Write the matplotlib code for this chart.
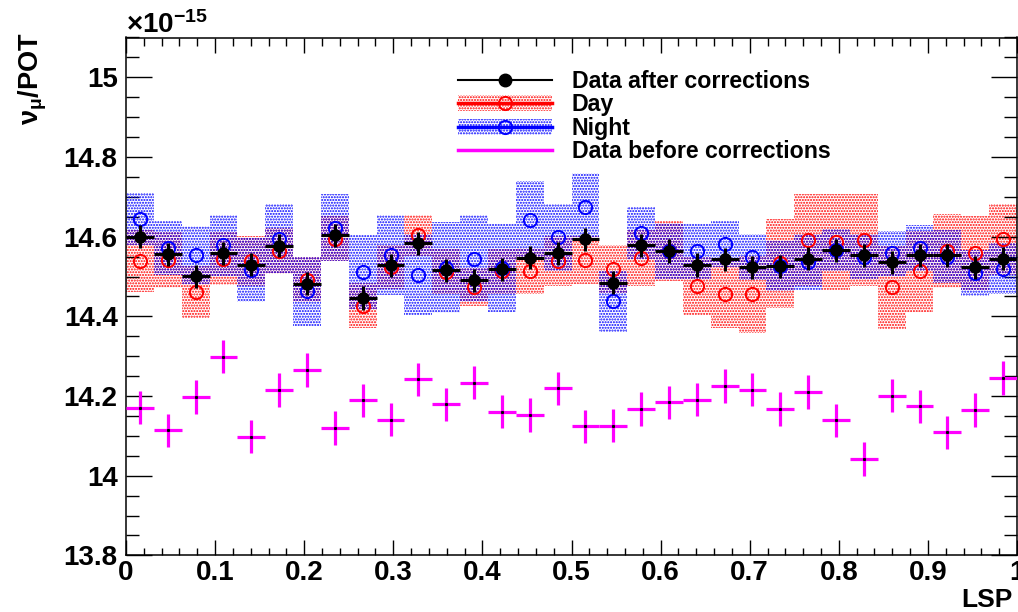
import numpy as np
import matplotlib
import matplotlib.pyplot as plt
from matplotlib.lines import Line2D
from matplotlib.patches import Patch
from matplotlib.ticker import MultipleLocator

plt.rcParams['font.family'] = ['Liberation Sans', 'DejaVu Sans']
plt.rcParams['font.weight'] = 'bold'
plt.rcParams['mathtext.fontset'] = 'custom'
plt.rcParams['mathtext.rm'] = 'Liberation Sans'
plt.rcParams['mathtext.it'] = 'Liberation Sans:italic'
plt.rcParams['mathtext.bf'] = 'Liberation Sans:bold'
plt.rcParams['hatch.linewidth'] = 1.0

# 32 LSP bins between 0 and 1
NBINS = 32
edges = np.linspace(0, 1, NBINS + 1)
lsp = 0.5 * (edges[:-1] + edges[1:])
binw = edges[1] - edges[0]

# values in units of 1e-15 nu_mu / POT
after = [14.600, 14.556, 14.501, 14.558, 14.530, 14.577, 14.482, 14.604,
         14.446, 14.528, 14.583, 14.516, 14.491, 14.518, 14.547, 14.558,
         14.593, 14.484, 14.578, 14.564, 14.529, 14.543, 14.523, 14.526,
         14.545, 14.566, 14.553, 14.536, 14.553, 14.553, 14.523, 14.545]
after_err = [0.029, 0.029, 0.029, 0.029, 0.029, 0.029, 0.029, 0.029,
             0.029, 0.029, 0.029, 0.029, 0.029, 0.029, 0.029, 0.029,
             0.029, 0.029, 0.029, 0.029, 0.029, 0.029, 0.029, 0.029,
             0.029, 0.029, 0.029, 0.029, 0.029, 0.029, 0.029, 0.029]

day = [14.539, 14.541, 14.461, 14.545, 14.539, 14.564, 14.492, 14.595,
       14.427, 14.524, 14.603, 14.512, 14.474, 14.513, 14.513, 14.539,
       14.541, 14.519, 14.547, 14.564, 14.477, 14.456, 14.455, 14.533,
       14.592, 14.587, 14.591, 14.473, 14.513, 14.564, 14.560, 14.593]
day_err = [0.078, 0.071, 0.066, 0.066, 0.063, 0.058, 0.056, 0.056,
           0.056, 0.056, 0.051, 0.056, 0.048, 0.056, 0.058, 0.063,
           0.061, 0.061, 0.071, 0.076, 0.073, 0.086, 0.096, 0.111,
           0.116, 0.121, 0.116, 0.104, 0.101, 0.093, 0.093, 0.088]

night = [14.644, 14.572, 14.554, 14.578, 14.516, 14.595, 14.463, 14.623,
         14.512, 14.554, 14.505, 14.522, 14.545, 14.522, 14.642, 14.598,
         14.675, 14.438, 14.609, 14.564, 14.563, 14.581, 14.550, 14.526,
         14.536, 14.566, 14.550, 14.558, 14.571, 14.550, 14.508, 14.520]
night_err = [0.066, 0.068, 0.073, 0.076, 0.081, 0.086, 0.086, 0.083,
             0.093, 0.101, 0.101, 0.114, 0.109, 0.111, 0.098, 0.083,
             0.086, 0.076, 0.066, 0.071, 0.068, 0.058, 0.058, 0.063,
             0.071, 0.053, 0.056, 0.056, 0.058, 0.066, 0.058, 0.063]

before = [14.171, 14.114, 14.198, 14.299, 14.098, 14.215, 14.265, 14.120,
          14.189, 14.141, 14.242, 14.179, 14.234, 14.161, 14.152, 14.219,
          14.124, 14.126, 14.167, 14.184, 14.191, 14.225, 14.216, 14.167,
          14.210, 14.139, 14.042, 14.201, 14.174, 14.109, 14.165, 14.245]
before_err = [0.042, 0.042, 0.042, 0.042, 0.042, 0.042, 0.042, 0.042,
              0.042, 0.042, 0.042, 0.042, 0.042, 0.042, 0.042, 0.042,
              0.042, 0.042, 0.042, 0.042, 0.042, 0.042, 0.042, 0.042,
              0.042, 0.042, 0.042, 0.042, 0.042, 0.042, 0.042, 0.042]

labels = ['Data after corrections', 'Day', 'Night', 'Data before corrections']
ytick_vals = [13.8, 14.0, 14.2, 14.4, 14.6, 14.8, 15.0]
ytick_labels = ['13.8', '14', '14.2', '14.4', '14.6', '14.8', '15']
xtick_vals = [0, 0.1, 0.2, 0.3, 0.4, 0.5, 0.6, 0.7, 0.8, 0.9, 1.0]
xtick_labels = ['0', '0.1', '0.2', '0.3', '0.4', '0.5', '0.6', '0.7', '0.8', '0.9', '1']

HATCH = '......'

fig = plt.figure(figsize=(10.18, 6.12), dpi=100)
ax = fig.add_axes([126 / 1018, 56.6 / 612, 891 / 1018, 517.9 / 612])

day_lo = np.array(day) - np.array(day_err)
night_lo = np.array(night) - np.array(night_err)
ax.bar(lsp, 2 * np.array(day_err), bottom=day_lo, width=binw,
       facecolor='none', edgecolor='red', hatch=HATCH, linewidth=0, zorder=1)
ax.bar(lsp, 2 * np.array(night_err), bottom=night_lo, width=binw,
       facecolor='none', edgecolor='blue', hatch=HATCH, linewidth=0, zorder=2)

ax.plot(lsp, day, 'o', mfc='none', mec='red', ms=9.5, mew=1.4, zorder=3)
ax.plot(lsp, night, 'o', mfc='none', mec='blue', ms=9.5, mew=1.4, zorder=4)

ax.errorbar(lsp, after, xerr=binw / 2, yerr=after_err, fmt='o', color='black',
            ms=8, elinewidth=2.2, capsize=0, zorder=5)
ax.errorbar(lsp, before, xerr=binw / 2, yerr=before_err, fmt='s', ms=1.2,
            mfc='black', mec='black', ecolor='magenta', elinewidth=2.3,
            capsize=0, zorder=5)

ax.set_xlim(0, 1)
ax.set_ylim(13.8, 15.1)
ax.set_xticks(xtick_vals)
ax.set_xticklabels(xtick_labels)
ax.set_yticks(ytick_vals)
ax.set_yticklabels(ytick_labels)
ax.xaxis.set_minor_locator(MultipleLocator(0.02))
ax.yaxis.set_minor_locator(MultipleLocator(0.05))
ax.tick_params(axis='x', which='major', direction='in', length=10.8, width=1.0,
               top=True, labelsize=20, pad=3)
ax.tick_params(axis='x', which='minor', direction='in', length=5.4, width=1.0, top=True)
ax.tick_params(axis='y', which='major', direction='in', length=18.7, width=1.0,
               right=True, labelsize=20, pad=6)
ax.tick_params(axis='y', which='minor', direction='in', length=9.4, width=1.0, right=True)
for sp in ax.spines.values():
    sp.set_linewidth(1.1)

h_after = Line2D([], [], color='black', lw=1.5, marker='o', ms=9)
h_day = (Patch(facecolor='none', edgecolor='red', hatch=HATCH, lw=0),
         Line2D([], [], color='red', lw=2.5, marker='o', mfc='none', mec='red', ms=9.5, mew=1.4))
h_night = (Patch(facecolor='none', edgecolor='blue', hatch=HATCH, lw=0),
           Line2D([], [], color='blue', lw=2.5, marker='o', mfc='none', mec='blue', ms=9.5, mew=1.4))
h_before = Line2D([], [], color='magenta', lw=2.5)
ax.legend([h_after, h_day, h_night, h_before], labels,
          loc='upper left', bbox_to_anchor=(458 / 1018, 1 - 70 / 612),
          bbox_transform=fig.transFigure, frameon=False,
          prop={'weight': 'bold', 'size': 16.7}, handlelength=4.05,
          handletextpad=0.86, labelspacing=0.02, borderpad=0, borderaxespad=0)

fig.text(126 / 1018, 1 - 33 / 612, r'$\times\mathbf{10^{-15}}$', fontsize=20,
         ha='left', va='baseline')
fig.text(33 / 1018, 1 - 32 / 612, r'$\mathrm{\nu}_{\mathrm{\mu}}$/POT', rotation=90,
         ha='center', va='top', fontsize=19.5, fontweight='bold')
fig.text(1013 / 1018, 1 - 607 / 612, 'LSP', ha='right', va='baseline',
         fontsize=19, fontweight='bold')

fig.savefig('out.png', dpi=100)
